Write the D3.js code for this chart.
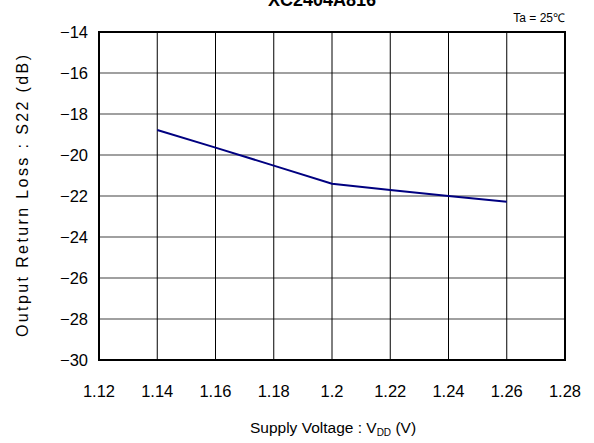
<!DOCTYPE html>
<html>
<head>
<meta charset="utf-8">
<script src="https://cdn.jsdelivr.net/npm/d3@7"></script>
<style>
body { margin: 0; background: #fff; }
text { font-family: "Liberation Sans", Arial, sans-serif; }
</style>
</head>
<body>
<svg width="594" height="443"></svg>
<script>
// data
var voltage = [1.14, 1.16, 1.18, 1.2, 1.22, 1.24, 1.26];
var s22 = [-18.78, -19.64, -20.52, -21.4, -21.71, -22.0, -22.28];
var xTicks = [1.12, 1.14, 1.16, 1.18, 1.2, 1.22, 1.24, 1.26, 1.28];
var yTicks = [-14, -16, -18, -20, -22, -24, -26, -28, -30];

var svg = d3.select("svg");
// plot box (note: "top" is a reserved window prop, so use other names)
var plotL = 99, plotR = 565, plotT = 32, plotB = 360;

var x = d3.scaleLinear().domain([1.12, 1.28]).range([plotL, plotR]);
var y = d3.scaleLinear().domain([-30, -14]).range([plotB, plotT]);

// horizontal grid (grey)
svg.append("g").selectAll("line")
    .data(yTicks.slice(1, -1))
    .enter().append("line")
    .attr("x1", plotL).attr("x2", plotR)
    .attr("y1", d => y(d)).attr("y2", d => y(d))
    .attr("stroke", "#808080").attr("stroke-width", 1.5);

// vertical grid (black)
svg.append("g").selectAll("line")
    .data(xTicks.slice(1, -1))
    .enter().append("line")
    .attr("x1", d => x(d)).attr("x2", d => x(d))
    .attr("y1", plotT).attr("y2", plotB)
    .attr("stroke", "#000").attr("stroke-width", 1);

// frame
svg.append("rect")
    .attr("x", plotL).attr("y", plotT)
    .attr("width", plotR - plotL).attr("height", plotB - plotT)
    .attr("fill", "none").attr("stroke", "#000").attr("stroke-width", 2);

// y tick labels
var fmt = d => (d < 0 ? "\u2212" + Math.abs(d) : d);
svg.append("g").selectAll("text")
    .data(yTicks)
    .enter().append("text")
    .attr("x", 88).attr("y", d => y(d) + 6)
    .attr("text-anchor", "end").attr("font-size", 16.5)
    .text(fmt);

// x tick labels
svg.append("g").selectAll("text")
    .data(xTicks)
    .enter().append("text")
    .attr("x", d => x(d)).attr("y", 397)
    .attr("text-anchor", "middle").attr("font-size", 16.5)
    .text(d => d);

// the curve
var line = d3.line().x((d, i) => x(voltage[i])).y(d => y(d));
svg.append("path")
    .datum(s22)
    .attr("d", line)
    .attr("fill", "none").attr("stroke", "#000080").attr("stroke-width", 2);

// title (cut off at the top, as in the original)
svg.append("text")
    .attr("x", 322).attr("y", 6)
    .attr("text-anchor", "middle").attr("font-size", 18).attr("font-weight", "bold")
    .text("XC2404A816");

svg.append("text")
    .attr("x", 565).attr("y", 22)
    .attr("text-anchor", "end").attr("font-size", 12)
    .text("Ta = 25\u2103");

// axis titles
var xl = svg.append("text")
    .attr("x", 333).attr("y", 433)
    .attr("text-anchor", "middle").attr("font-size", 15.5);
xl.append("tspan").text("Supply Voltage : V");
xl.append("tspan").attr("font-size", 10).attr("dy", 3).text("DD");
xl.append("tspan").attr("dy", -3).text(" (V)");

svg.append("text")
    .attr("transform", "translate(28,196) rotate(-90)")
    .attr("text-anchor", "middle").attr("font-size", 16)
    .attr("textLength", 282).attr("lengthAdjust", "spacing")
    .text("Output Return Loss : S22 (dB)");
</script>
</body>
</html>
